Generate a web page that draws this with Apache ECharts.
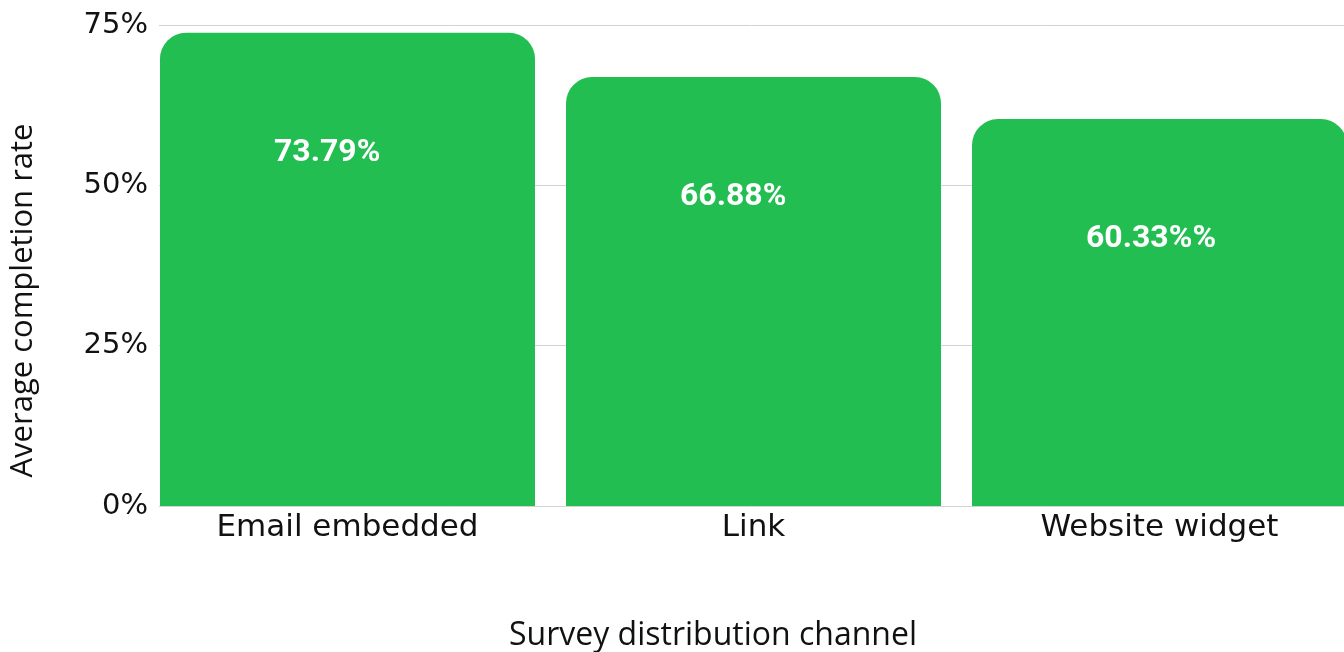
<!DOCTYPE html>
<html>
<head>
<meta charset="utf-8">
<script src="https://cdn.jsdelivr.net/npm/echarts@6/dist/echarts.min.js"></script>
<style>
  html, body { margin: 0; padding: 0; background: #fff; }
  #chart { width: 1344px; height: 652px; }
</style>
</head>
<body>
<div id="chart"></div>
<script>
// data
var channels = ['Email embedded', 'Link', 'Website widget'];
var rates = [73.79, 66.88, 60.33];
var rateLabels = ['73.79%', '66.88%', '60.33%%'];

var chart = echarts.init(document.getElementById('chart'));

var barData = [];
for (let i = 0; i < rates.length; i++) {
  barData.push({ value: rates[i], labelText: rateLabels[i] });
}

var option = {
  animation: false,
  backgroundColor: '#fff',
  textStyle: { fontFamily: 'Open Sans' },
  grid: [
    // axis + gridlines
    { left: 159, right: 0, top: 25, bottom: 146, containLabel: false, outerBoundsMode: 'none' },
    // bars (outer gaps pushed outside the canvas)
    { left: 144.5, width: 1218, top: 25, bottom: 146, containLabel: false, outerBoundsMode: 'none' }
  ],
  xAxis: [
    { gridIndex: 0, type: 'category', data: channels, show: false },
    {
      gridIndex: 1,
      type: 'category',
      data: channels,
      axisLine: { show: false },
      axisTick: { show: false },
      axisLabel: {
        color: '#111',
        fontSize: 31,
        fontFamily: 'DejaVu Sans',
        margin: 6
      },
      name: 'Survey distribution channel',
      nameLocation: 'middle',
      nameGap: 114,
      nameTextStyle: {
        color: '#111',
        fontSize: 32,
        fontFamily: 'Open Sans',
        padding: [0, 81, 0, 0]
      }
    }
  ],
  yAxis: [
    {
      gridIndex: 0,
      type: 'value',
      min: 0,
      max: 75,
      interval: 25,
      axisLine: { show: false },
      axisTick: { show: false },
      splitLine: { show: true, lineStyle: { color: '#d2d2d2', width: 1 } },
      axisLabel: {
        color: '#111',
        fontSize: 29,
        fontFamily: 'DejaVu Sans',
        margin: 11,
        padding: [14, 0, 0, 0],
        formatter: function (v) { return v + '%'; }
      },
      name: 'Average completion rate',
      nameLocation: 'middle',
      nameGap: 120,
      nameRotate: 90,
      nameTextStyle: {
        color: '#111',
        fontSize: 31,
        fontFamily: 'Open Sans',
        padding: [0, 70, 0, 0]
      }
    },
    { gridIndex: 1, type: 'value', min: 0, max: 75, show: false }
  ],
  series: [
    {
      type: 'bar',
      xAxisIndex: 1,
      yAxisIndex: 1,
      data: barData,
      barCategoryGap: 31,
      itemStyle: {
        color: '#23be52',
        borderRadius: [26, 26, 0, 0]
      },
      label: {
        show: true,
        position: [114, 120],
        align: 'left',
        verticalAlign: 'middle',
        color: '#fff',
        fontSize: 32,
        fontWeight: 'bold',
        fontFamily: 'Roboto',
        formatter: function (p) { return p.data.labelText; }
      }
    }
  ]
};

chart.setOption(option);
</script>
</body>
</html>
